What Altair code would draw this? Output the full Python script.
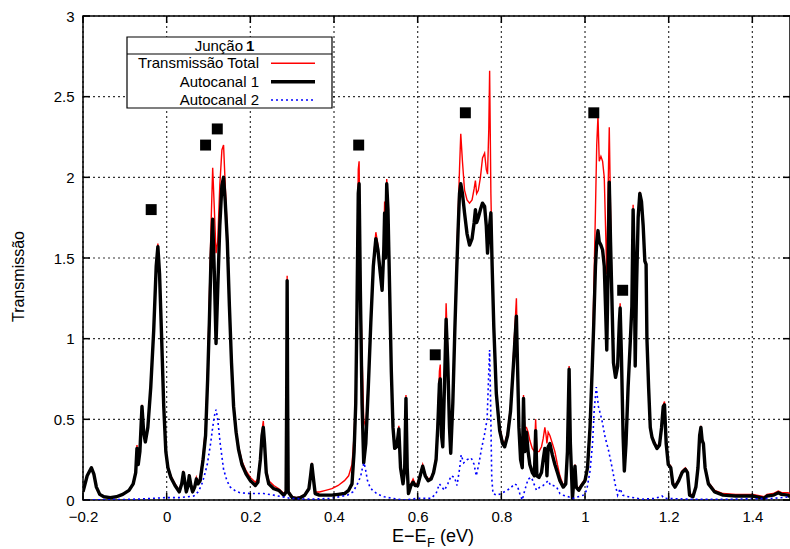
import altair as alt
import pandas as pd

W, H = 707, 484
XMIN, XMAX = -0.2, 1.49
FONT = "Liberation Sans"

# energy grid shared by the total transmission and eigenchannel 1
e_x = [-0.200, -0.190, -0.180, -0.174, -0.168, -0.160, -0.150, -0.135, -0.120, -0.105,
       -0.090, -0.080, -0.074, -0.071, -0.068, -0.064, -0.059, -0.055, -0.051, -0.045,
       -0.038, -0.031, -0.025, -0.021, -0.017, -0.012, -0.007, -0.002, 0.003, 0.010,
       0.020, 0.030, 0.036, 0.040, 0.044, 0.047, 0.051, 0.054, 0.058, 0.062,
       0.067, 0.071, 0.075, 0.080, 0.087, 0.093, 0.098, 0.102, 0.106, 0.110,
       0.114, 0.118, 0.122, 0.127, 0.132, 0.136, 0.140, 0.145, 0.150, 0.155,
       0.160, 0.166, 0.172, 0.180, 0.190, 0.200, 0.212, 0.218, 0.224, 0.228,
       0.231, 0.234, 0.238, 0.244, 0.256, 0.268, 0.280, 0.2855, 0.2870, 0.2880,
       0.2890, 0.2905, 0.300, 0.310, 0.320, 0.330, 0.340, 0.344, 0.347, 0.350,
       0.355, 0.365, 0.380, 0.395, 0.410, 0.425, 0.435, 0.443, 0.448, 0.452,
       0.455, 0.458, 0.460, 0.463, 0.467, 0.471, 0.476, 0.482, 0.488, 0.494,
       0.500, 0.505, 0.510, 0.515, 0.519, 0.521, 0.523, 0.526, 0.529, 0.533,
       0.537, 0.541, 0.545, 0.550, 0.555, 0.559, 0.565, 0.569, 0.572, 0.575,
       0.578, 0.584, 0.589, 0.594, 0.600, 0.606, 0.612, 0.618, 0.625, 0.632,
       0.638, 0.644, 0.648, 0.652, 0.654, 0.657, 0.660, 0.664, 0.668, 0.672,
       0.676, 0.679, 0.684, 0.689, 0.693, 0.697, 0.700, 0.703, 0.707, 0.712,
       0.718, 0.724, 0.730, 0.735, 0.738, 0.741, 0.745, 0.750, 0.755, 0.760,
       0.764, 0.767, 0.770, 0.772, 0.775, 0.778, 0.782, 0.788, 0.796, 0.803,
       0.808, 0.815, 0.822, 0.828, 0.832, 0.836, 0.839, 0.842, 0.846, 0.850,
       0.853, 0.856, 0.860, 0.864, 0.868, 0.874, 0.879, 0.882, 0.885, 0.890,
       0.896, 0.900, 0.904, 0.907, 0.909, 0.912, 0.916, 0.922, 0.928, 0.934,
       0.940, 0.948, 0.954, 0.958, 0.962, 0.965, 0.970, 0.974, 0.976, 0.979,
       0.985, 0.992, 1.000, 1.006, 1.012, 1.017, 1.021, 1.025, 1.028, 1.031,
       1.034, 1.038, 1.042, 1.046, 1.049, 1.052, 1.055, 1.058, 1.061, 1.064,
       1.068, 1.073, 1.078, 1.082, 1.084, 1.087, 1.091, 1.094, 1.098, 1.103,
       1.108, 1.112, 1.115, 1.118, 1.120, 1.123, 1.127, 1.131, 1.135, 1.139,
       1.143, 1.146, 1.148, 1.152, 1.156, 1.160, 1.166, 1.172, 1.178, 1.183,
       1.187, 1.190, 1.194, 1.199, 1.205, 1.210, 1.215, 1.224, 1.232, 1.240,
       1.245, 1.250, 1.258, 1.265, 1.270, 1.274, 1.277, 1.280, 1.283, 1.287,
       1.295, 1.310, 1.330, 1.360, 1.400, 1.420, 1.428, 1.435, 1.450, 1.462,
       1.470, 1.485, 1.490]

ch1_y = [0.05, 0.15, 0.20, 0.16, 0.08, 0.035, 0.02, 0.015, 0.02, 0.035,
         0.06, 0.10, 0.17, 0.32, 0.22, 0.30, 0.58, 0.42, 0.36, 0.45,
         0.70, 1.05, 1.45, 1.57, 1.40, 1.00, 0.58, 0.30, 0.20, 0.14,
         0.09, 0.05, 0.10, 0.17, 0.10, 0.05, 0.09, 0.15, 0.09, 0.05,
         0.08, 0.13, 0.10, 0.12, 0.25, 0.40, 0.75, 1.10, 1.50, 1.74,
         1.40, 0.97, 1.30, 1.70, 1.95, 2.00, 1.85, 1.60, 1.20, 0.85,
         0.58, 0.42, 0.31, 0.22, 0.16, 0.12, 0.09, 0.11, 0.25, 0.40,
         0.45, 0.35, 0.17, 0.10, 0.07, 0.06, 0.03, 0.05, 0.70, 1.36,
         0.70, 0.05, 0.015, 0.01, 0.015, 0.03, 0.07, 0.15, 0.22, 0.15,
         0.04, 0.03, 0.03, 0.03, 0.035, 0.04, 0.06, 0.10, 0.30, 0.60,
         1.20, 1.90, 1.96, 1.30, 0.60, 0.23, 0.35, 0.70, 1.10, 1.45,
         1.62, 1.55, 1.42, 1.30, 1.55, 1.78, 1.50, 1.96, 1.80, 1.30,
         0.80, 0.45, 0.32, 0.33, 0.44, 0.20, 0.10, 0.20, 0.63, 0.20,
         0.04, 0.09, 0.11, 0.09, 0.09, 0.15, 0.21, 0.15, 0.12, 0.13,
         0.17, 0.25, 0.45, 0.72, 0.75, 0.40, 0.33, 0.70, 1.12, 0.85,
         0.45, 0.29, 0.60, 1.07, 1.40, 1.70, 1.90, 1.96, 1.90, 1.78,
         1.65, 1.58, 1.62, 1.72, 1.80, 1.72, 1.75, 1.80, 1.84, 1.82,
         1.70, 1.53, 1.65, 1.70, 1.78, 1.45, 1.07, 0.66, 0.43, 0.35,
         0.33, 0.40, 0.55, 0.80, 0.97, 1.14, 0.80, 0.45, 0.25, 0.20,
         0.63, 0.30, 0.42, 0.30, 0.22, 0.17, 0.15, 0.43, 0.15, 0.14,
         0.17, 0.25, 0.32, 0.30, 0.15, 0.33, 0.35, 0.28, 0.22, 0.17,
         0.12, 0.08, 0.10, 0.30, 0.81, 0.35, 0.01, 0.15, 0.21, 0.08,
         0.06, 0.09, 0.12, 0.20, 0.45, 0.80, 1.10, 1.45, 1.60, 1.67,
         1.60, 1.58, 1.55, 1.45, 1.20, 0.93, 1.40, 1.97, 1.60, 1.28,
         0.85, 0.76, 0.83, 1.10, 1.19, 0.90, 0.40, 0.18, 0.35, 0.70,
         0.97, 1.20, 1.80, 1.40, 0.83, 1.30, 1.75, 1.90, 1.85, 1.70,
         1.48, 1.46, 1.00, 0.70, 0.45, 0.39, 0.35, 0.32, 0.34, 0.45,
         0.58, 0.59, 0.35, 0.22, 0.20, 0.10, 0.08, 0.12, 0.17, 0.19,
         0.17, 0.03, 0.02, 0.08, 0.20, 0.40, 0.45, 0.37, 0.35, 0.20,
         0.10, 0.05, 0.03, 0.025, 0.025, 0.015, 0.01, 0.025, 0.03, 0.045,
         0.035, 0.03, 0.02]

total_y = [0.05, 0.15, 0.20, 0.16, 0.08, 0.035, 0.02, 0.015, 0.02, 0.035,
           0.06, 0.10, 0.18, 0.34, 0.23, 0.31, 0.59, 0.43, 0.37, 0.46,
           0.71, 1.06, 1.46, 1.59, 1.41, 1.01, 0.59, 0.31, 0.21, 0.15,
           0.10, 0.06, 0.11, 0.18, 0.11, 0.06, 0.10, 0.16, 0.10, 0.06,
           0.09, 0.14, 0.11, 0.14, 0.28, 0.45, 0.82, 1.25, 1.70, 2.06,
           1.80, 1.53, 1.60, 1.95, 2.17, 2.20, 1.95, 1.65, 1.22, 0.87,
           0.60, 0.44, 0.33, 0.24, 0.18, 0.14, 0.11, 0.13, 0.27, 0.43,
           0.49, 0.37, 0.19, 0.12, 0.09, 0.07, 0.04, 0.06, 0.72, 1.39,
           0.72, 0.06, 0.02, 0.015, 0.02, 0.035, 0.075, 0.16, 0.23, 0.16,
           0.05, 0.05, 0.06, 0.07, 0.09, 0.12, 0.15, 0.22, 0.40, 0.70,
           1.30, 2.05, 2.10, 1.40, 0.90, 0.50, 0.45, 0.73, 1.12, 1.48,
           1.66, 1.58, 1.44, 1.32, 1.60, 1.85, 1.53, 1.99, 1.82, 1.31,
           0.81, 0.46, 0.33, 0.34, 0.46, 0.21, 0.11, 0.21, 0.65, 0.21,
           0.05, 0.10, 0.13, 0.10, 0.10, 0.16, 0.22, 0.16, 0.13, 0.14,
           0.18, 0.27, 0.50, 0.80, 0.84, 0.45, 0.35, 0.75, 1.22, 0.90,
           0.47, 0.30, 0.65, 1.12, 1.48, 1.80, 2.05, 2.27, 2.10, 1.92,
           1.86, 1.84, 1.86, 1.93, 1.98, 1.90, 1.92, 2.00, 2.12, 2.15,
           2.05, 2.02, 2.30, 2.66, 1.90, 1.50, 1.10, 0.68, 0.45, 0.37,
           0.35, 0.42, 0.58, 0.85, 1.05, 1.25, 0.85, 0.47, 0.27, 0.22,
           0.65, 0.45, 0.45, 0.42, 0.37, 0.32, 0.30, 0.50, 0.30, 0.30,
           0.33, 0.38, 0.45, 0.40, 0.35, 0.42, 0.40, 0.35, 0.30, 0.22,
           0.15, 0.09, 0.11, 0.31, 0.83, 0.36, 0.02, 0.16, 0.22, 0.09,
           0.07, 0.10, 0.13, 0.21, 0.47, 0.85, 1.30, 1.80, 2.20, 2.38,
           2.10, 2.13, 2.10, 2.00, 1.70, 1.40, 1.90, 2.31, 1.80, 1.30,
           0.90, 0.77, 0.84, 1.12, 1.22, 0.91, 0.41, 0.19, 0.36, 0.71,
           0.98, 1.21, 1.83, 1.41, 0.84, 1.31, 1.76, 1.91, 1.86, 1.71,
           1.49, 1.47, 1.01, 0.71, 0.46, 0.40, 0.36, 0.33, 0.35, 0.46,
           0.59, 0.61, 0.36, 0.23, 0.21, 0.11, 0.09, 0.13, 0.18, 0.20,
           0.18, 0.04, 0.03, 0.09, 0.21, 0.41, 0.46, 0.38, 0.36, 0.21,
           0.11, 0.06, 0.04, 0.035, 0.035, 0.025, 0.02, 0.035, 0.04, 0.055,
           0.045, 0.045, 0.04]

# eigenchannel 2
ch2_x = [-0.200, -0.100, -0.050, 0.000, 0.030, 0.050, 0.065, 0.075, 0.083, 0.089,
         0.097, 0.105, 0.110, 0.114, 0.118, 0.122, 0.128, 0.136, 0.144, 0.152,
         0.165, 0.176, 0.200, 0.232, 0.256, 0.296, 0.344, 0.392, 0.432, 0.445,
         0.452, 0.458, 0.464, 0.468, 0.472, 0.476, 0.480, 0.486, 0.492, 0.505,
         0.520, 0.540, 0.568, 0.600, 0.632, 0.644, 0.652, 0.658, 0.664, 0.672,
         0.680, 0.688, 0.694, 0.700, 0.704, 0.710, 0.718, 0.728, 0.735, 0.740,
         0.746, 0.752, 0.760, 0.766, 0.770, 0.772, 0.774, 0.777, 0.780, 0.790,
         0.800, 0.820, 0.832, 0.838, 0.844, 0.850, 0.856, 0.864, 0.872, 0.878,
         0.884, 0.892, 0.900, 0.912, 0.918, 0.924, 0.932, 0.940, 0.948, 0.972,
         0.996, 1.004, 1.012, 1.018, 1.022, 1.027, 1.032, 1.040, 1.048, 1.056,
         1.064, 1.072, 1.078, 1.084, 1.090, 1.104, 1.136, 1.168, 1.184, 1.190,
         1.250, 1.350, 1.450, 1.490]
ch2_y = [0.0, 0.003, 0.008, 0.015, 0.015, 0.02, 0.025, 0.05, 0.09, 0.14,
         0.22, 0.35, 0.45, 0.52, 0.56, 0.50, 0.35, 0.19, 0.12, 0.08,
         0.055, 0.045, 0.04, 0.04, 0.03, 0.01, 0.005, 0.01, 0.03, 0.05,
         0.08, 0.11, 0.15, 0.20, 0.23, 0.18, 0.12, 0.08, 0.06, 0.035,
         0.02, 0.01, 0.0, 0.01, 0.01, 0.04, 0.10, 0.08, 0.06, 0.10,
         0.15, 0.14, 0.09, 0.19, 0.28, 0.23, 0.25, 0.26, 0.22, 0.15,
         0.22, 0.31, 0.41, 0.50, 0.80, 0.93, 0.66, 0.14, 0.04, 0.03,
         0.04, 0.07, 0.10, 0.09, 0.04, 0.0, 0.06, 0.13, 0.14, 0.10,
         0.06, 0.08, 0.09, 0.12, 0.09, 0.09, 0.08, 0.04, 0.03, 0.01,
         0.03, 0.06, 0.18, 0.35, 0.56, 0.70, 0.58, 0.50, 0.39, 0.31,
         0.21, 0.10, 0.03, 0.07, 0.03, 0.02, 0.005, 0.01, 0.025, 0.01,
         0.005, 0.005, 0.01, 0.02]

# black square markers
sq_x = [-0.037, 0.093, 0.121, 0.459, 0.642, 0.714, 1.021, 1.090]
sq_y = [1.80, 2.20, 2.30, 2.20, 0.90, 2.40, 2.40, 1.30]

x_ticks = [-0.2, 0.0, 0.2, 0.4, 0.6, 0.8, 1.0, 1.2, 1.4]
y_ticks = [0.0, 0.5, 1.0, 1.5, 2.0, 2.5, 3.0]

legend_title = "Junção"
legend_title_bold = "1"
legend_labels = ["Transmissão Total", "Autocanal 1", "Autocanal 2"]

main_df = pd.DataFrame({"E": e_x, "T1": ch1_y, "Ttot": total_y})
ch2_df = pd.DataFrame({"E": ch2_x, "T2": ch2_y})
sq_df = pd.DataFrame({"E": sq_x, "T": sq_y})
xt_df = pd.DataFrame({"E": x_ticks})
yt_df = pd.DataFrame({"T": y_ticks})
one = pd.DataFrame({"a": [0]})

xscale = alt.Scale(domain=[XMIN, XMAX], nice=False, zero=False)
yscale = alt.Scale(domain=[0, 3], nice=False, zero=True)

xaxis = alt.Axis(values=x_ticks, format="~g", title=None, ticks=False, grid=False,
                 domain=False, labelFontSize=15, labelPadding=9, labelFont=FONT,
                 labelColor="black", labelFlush=False, labelOverlap=False)
yaxis = alt.Axis(values=y_ticks, format="~g", title="Transmissão", grid=False,
                 ticks=False, domain=False, labelFontSize=15, labelPadding=9,
                 labelFont=FONT, labelColor="black", labelFlush=False, labelOverlap=False,
                 titleFont=FONT, titleFontSize=16, titleFontWeight="normal",
                 titleColor="black", titleX=-65, titleY=260,
                 titleAngle=270, titleAlign="center", titleBaseline="middle")

X = alt.X("E:Q", scale=xscale, axis=xaxis)
Y = lambda f: alt.Y(f"{f}:Q", scale=yscale, axis=yaxis)

# dotted grid (gnuplot style): rules spanning the whole plot
GRID = dict(color="#000000", strokeWidth=1.2, strokeDash=[2, 3], opacity=0.8)
grid_x = alt.Chart(xt_df).mark_rule(**GRID).encode(x=X)
grid_y = alt.Chart(yt_df).mark_rule(**GRID).encode(y=Y("T"))

base = alt.Chart(main_df)

red_line = base.mark_line(color="#ff0000", strokeWidth=1.4, clip=True).encode(
    x=X, y=Y("Ttot"), order="E:Q")

black_line = base.mark_line(color="#000000", strokeWidth=3.4, clip=True,
                            strokeJoin="round").encode(
    x=X, y=Y("T1"), order="E:Q")

blue_line = alt.Chart(ch2_df).mark_line(color="#0000ff", strokeWidth=1.6,
                                        strokeDash=[2, 3], clip=True).encode(
    x=X, y=Y("T2"), order="E:Q")

squares = alt.Chart(sq_df).mark_square(size=120, color="black", opacity=1,
                                       filled=True).encode(x=X, y=Y("T"))

# inward ticks (gnuplot style) on all four sides
tick_len = 7
TICK = dict(color="black", strokeWidth=1.5)
xt_bot = alt.Chart(xt_df).mark_rule(**TICK).encode(
    x=X, y=alt.value(H - tick_len), y2=alt.value(H))
xt_top = alt.Chart(xt_df).mark_rule(**TICK).encode(
    x=X, y=alt.value(0), y2=alt.value(tick_len))
yt_left = alt.Chart(yt_df).mark_rule(**TICK).encode(
    y=Y("T"), x=alt.value(0), x2=alt.value(tick_len))
yt_right = alt.Chart(yt_df).mark_rule(**TICK).encode(
    y=Y("T"), x=alt.value(W - tick_len), x2=alt.value(W))

# x-axis title with subscript F
xt_y = 526
xtitle_a = alt.Chart(one).mark_text(text="E−E", font=FONT, fontSize=18, align="left",
                                    baseline="alphabetic", color="black").encode(
    x=alt.value(309), y=alt.value(xt_y))
xtitle_b = alt.Chart(one).mark_text(text="F", font=FONT, fontSize=13, align="left",
                                    baseline="alphabetic", color="black").encode(
    x=alt.value(344), y=alt.value(xt_y + 5))
xtitle_c = alt.Chart(one).mark_text(text="(eV)", font=FONT, fontSize=18, align="left",
                                    baseline="alphabetic", color="black").encode(
    x=alt.value(357), y=alt.value(xt_y))

# legend box (gnuplot style)
LX0, LX1, LY0, LY1, LSEP = 44, 249, 21, 92, 38
leg_box = alt.Chart(one).mark_rect(fill="white", stroke="black", strokeWidth=1.2).encode(
    x=alt.value(LX0), x2=alt.value(LX1), y=alt.value(LY0), y2=alt.value(LY1))
leg_sep = alt.Chart(one).mark_rule(color="black", strokeWidth=1.2).encode(
    x=alt.value(LX0), x2=alt.value(LX1), y=alt.value(LSEP))
leg_t1 = alt.Chart(one).mark_text(text=legend_title, font=FONT, fontSize=15, align="right",
                                  baseline="middle", color="black").encode(
    x=alt.value(160), y=alt.value(29.5))
leg_t2 = alt.Chart(one).mark_text(text=legend_title_bold, font=FONT, fontSize=15,
                                  fontWeight="bold", align="left", baseline="middle",
                                  color="black").encode(
    x=alt.value(163), y=alt.value(29.5))
row_y = [47.3, 65.7, 84.0]
leg_layers = []
styles = [dict(color="#ff0000", strokeWidth=1.4),
          dict(color="#000000", strokeWidth=3.4),
          dict(color="#0000ff", strokeWidth=1.6, strokeDash=[2, 3])]
for lab, ry, st in zip(legend_labels, row_y, styles):
    leg_layers.append(alt.Chart(one).mark_text(text=lab, font=FONT, fontSize=15,
                                               align="right", baseline="middle",
                                               color="black").encode(
        x=alt.value(176), y=alt.value(ry)))
    leg_layers.append(alt.Chart(one).mark_rule(**st).encode(
        x=alt.value(188), x2=alt.value(232), y=alt.value(ry)))

chart = alt.layer(
    grid_x, grid_y,
    red_line, black_line, blue_line, squares,
    xt_bot, xt_top, yt_left, yt_right,
    xtitle_a, xtitle_b, xtitle_c,
    leg_box, leg_sep, leg_t1, leg_t2, *leg_layers,
).properties(
    width=W, height=H,
    autosize=alt.AutoSizeParams(type="none"),
    padding={"left": 83, "top": 16, "right": 0, "bottom": 49},
    background="white",
).configure_view(
    stroke="black", strokeWidth=1.5
)

chart.save("out.html", embed_options={"renderer": "svg", "actions": False})
